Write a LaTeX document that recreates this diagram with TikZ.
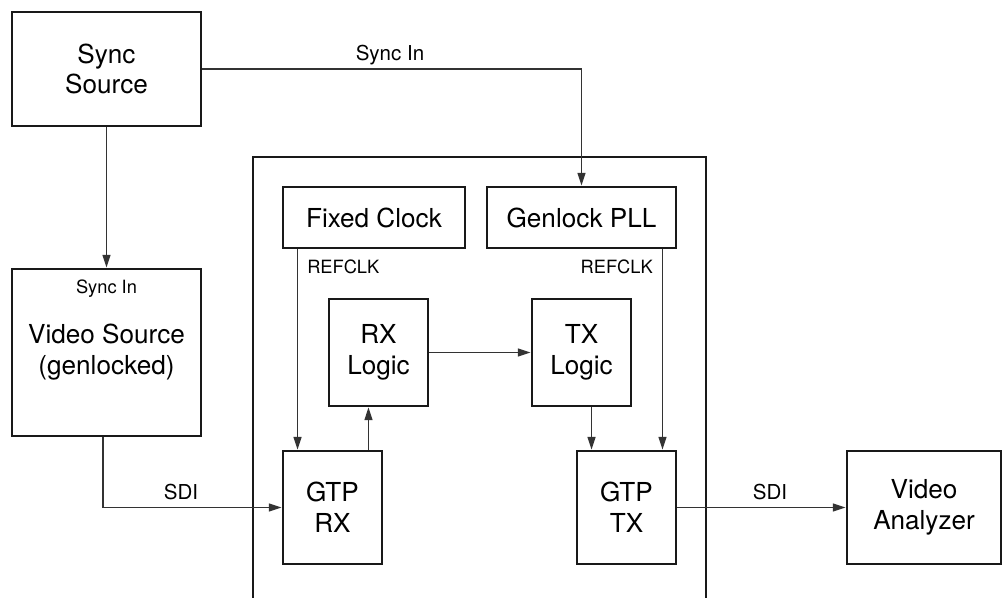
\documentclass[tikz,border=0pt]{standalone}
\usepackage{fontspec}
\setmainfont{TeX Gyre Heros}
\usetikzlibrary{arrows.meta,calc}
\begin{document}
\begin{tikzpicture}[x=0.75pt,y=-0.75pt,
  blk/.style={draw=black!90,line width=2.2pt,inner sep=0pt,align=center,
    font=\fontsize{19.6pt}{23.2pt}\selectfont},
  arr/.style={draw=black!80,line width=0.95pt,-{Triangle[length=9.5pt,width=6pt]}},
  lblA/.style={inner sep=0pt,font=\fontsize{15.4pt}{18pt}\selectfont},
  lblB/.style={inner sep=0pt,font=\fontsize{13.7pt}{16pt}\selectfont}]
\useasboundingbox (0,0) rectangle (1005,598);
% outer device box (open at bottom)
\draw[draw=black!90,line width=2.2pt] (253,600) -- (253,157) -- (706,157) -- (706,600);
% blocks
\node[blk,minimum width={189*0.75pt},minimum height={114*0.75pt}] (sync) at (106.5,69) {Sync\\Source};
\node[blk,minimum width={189*0.75pt},minimum height={167*0.75pt}] (vsrc) at (106.5,352.5) {Video Source\\(genlocked)};
\node[blk,minimum width={182*0.75pt},minimum height={61*0.75pt}] (fixed) at (374,217.5) {Fixed Clock};
\node[blk,minimum width={189*0.75pt},minimum height={61*0.75pt}] (genlock) at (581.5,217.5) {Genlock PLL};
\node[blk,minimum width={99*0.75pt},minimum height={107*0.75pt}] (rxl) at (378.5,352.5) {RX\\Logic};
\node[blk,minimum width={99*0.75pt},minimum height={107*0.75pt}] (txl) at (581.5,352.5) {TX\\Logic};
\node[blk,minimum width={99*0.75pt},minimum height={113*0.75pt}] (gtprx) at (332.5,507.5) {GTP\\RX};
\node[blk,minimum width={99*0.75pt},minimum height={113*0.75pt}] (gtptx) at (626.5,507.5) {GTP\\TX};
\node[blk,minimum width={154*0.75pt},minimum height={113*0.75pt}] (va) at (924,507.5) {Video\\Analyzer};
% labels
\node[lblA] (lsyncin) at (390,55) {Sync In};
\node[lblB] (lvsyncin) at (106.5,289) {Sync In};
\node[lblB,anchor=west] (lrefl) at (307,267) {REFCLK};
\node[lblB,anchor=east] (lrefr) at (653,267) {REFCLK};
\node[lblA] (lsdil) at (181,492) {SDI};
\node[lblA] (lsdir) at (770,492) {SDI};
% anchor coordinates
\coordinate (rxin) at ([xshift={16*0.75pt}]gtprx.north west);
\coordinate (rxout) at ([xshift={-15*0.75pt}]gtprx.north east);
\coordinate (txin) at ([xshift={16*0.75pt}]gtptx.north west);
\coordinate (txref) at ([xshift={-15*0.75pt}]gtptx.north east);
\coordinate (vsout) at ([xshift={-3.5*0.75pt}]vsrc.south);
% connectors
\draw[arr] (sync.east) -| (genlock.north);
\draw[arr] (sync.south) -- (vsrc.north);
\draw[arr] (vsout) |- (gtprx.west);
\draw[arr] (fixed.south -| rxin) -- (rxin);
\draw[arr] (genlock.south -| txref) -- (txref);
\draw[arr] (rxout) -- (rxl.south -| rxout);
\draw[arr] (rxl.east) -- (txl.west);
\draw[arr] (txl.south -| txin) -- (txin);
\draw[arr] (gtptx.east) -- (va.west);
\end{tikzpicture}
\end{document}
